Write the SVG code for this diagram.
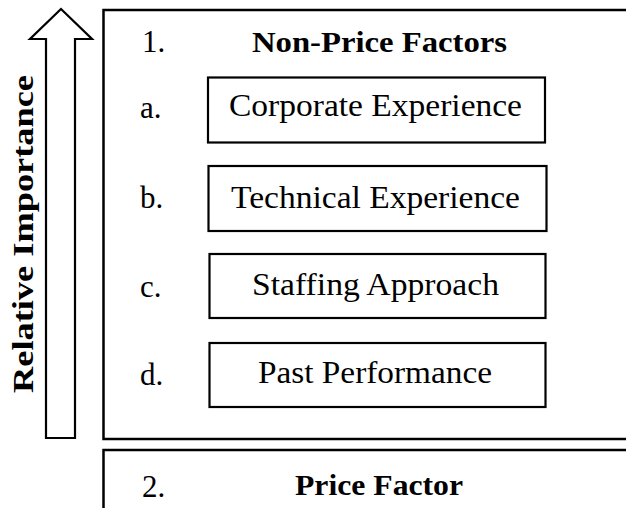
<svg xmlns="http://www.w3.org/2000/svg" width="626" height="508" viewBox="0 0 626 508">
  <style>
    .frame { fill: none; stroke: #000; stroke-width: 2.5; }
    .box { fill: #fff; stroke: #000; stroke-width: 2.2; }
    .arrow { fill: #fff; stroke: #000; stroke-width: 2.2; stroke-linejoin: miter; }
    .t { font-family: "Liberation Serif", "Times New Roman", serif; fill: #000; }
    .reg { font-size: 31px; }
    .bold { font-size: 30px; font-weight: bold; }
  </style>

  <!-- Upward arrow: relative importance -->
  <g id="importance-arrow">
    <polygon class="arrow" points="61,9 92,39 75,39 75,438 46,438 46,39 30,39"/>
    <text class="t bold" transform="translate(33,393) rotate(-90)" textLength="318" lengthAdjust="spacingAndGlyphs">Relative Importance</text>
  </g>

  <!-- Section 1: non-price factors -->
  <g id="non-price-factors">
    <rect class="frame" x="103.5" y="10" width="540" height="429"/>
    <text class="t reg" x="142" y="52">1.</text>
    <text class="t bold" x="252" y="52" textLength="255" lengthAdjust="spacingAndGlyphs">Non-Price Factors</text>
  </g>

  <g id="factor-a">
    <text class="t reg" x="140" y="118">a.</text>
    <rect class="box" x="208" y="77.5" width="337" height="65"/>
    <text class="t reg" x="229" y="116" textLength="293" lengthAdjust="spacingAndGlyphs">Corporate Experience</text>
  </g>

  <g id="factor-b">
    <text class="t reg" x="140" y="208">b.</text>
    <rect class="box" x="208.5" y="166" width="338" height="65"/>
    <text class="t reg" x="231" y="208" textLength="289" lengthAdjust="spacingAndGlyphs">Technical Experience</text>
  </g>

  <g id="factor-c">
    <text class="t reg" x="140" y="297">c.</text>
    <rect class="box" x="209.5" y="254" width="336" height="64"/>
    <text class="t reg" x="252" y="295" textLength="247" lengthAdjust="spacingAndGlyphs">Staffing Approach</text>
  </g>

  <g id="factor-d">
    <text class="t reg" x="140" y="385">d.</text>
    <rect class="box" x="209.5" y="343" width="336" height="64"/>
    <text class="t reg" x="258" y="383" textLength="234" lengthAdjust="spacingAndGlyphs">Past Performance</text>
  </g>

  <!-- Section 2: price factor -->
  <g id="price-factor">
    <rect class="frame" x="103.5" y="450" width="540" height="80"/>
    <text class="t reg" x="142" y="497">2.</text>
    <text class="t bold" x="295" y="495" textLength="168" lengthAdjust="spacingAndGlyphs">Price Factor</text>
  </g>
</svg>
